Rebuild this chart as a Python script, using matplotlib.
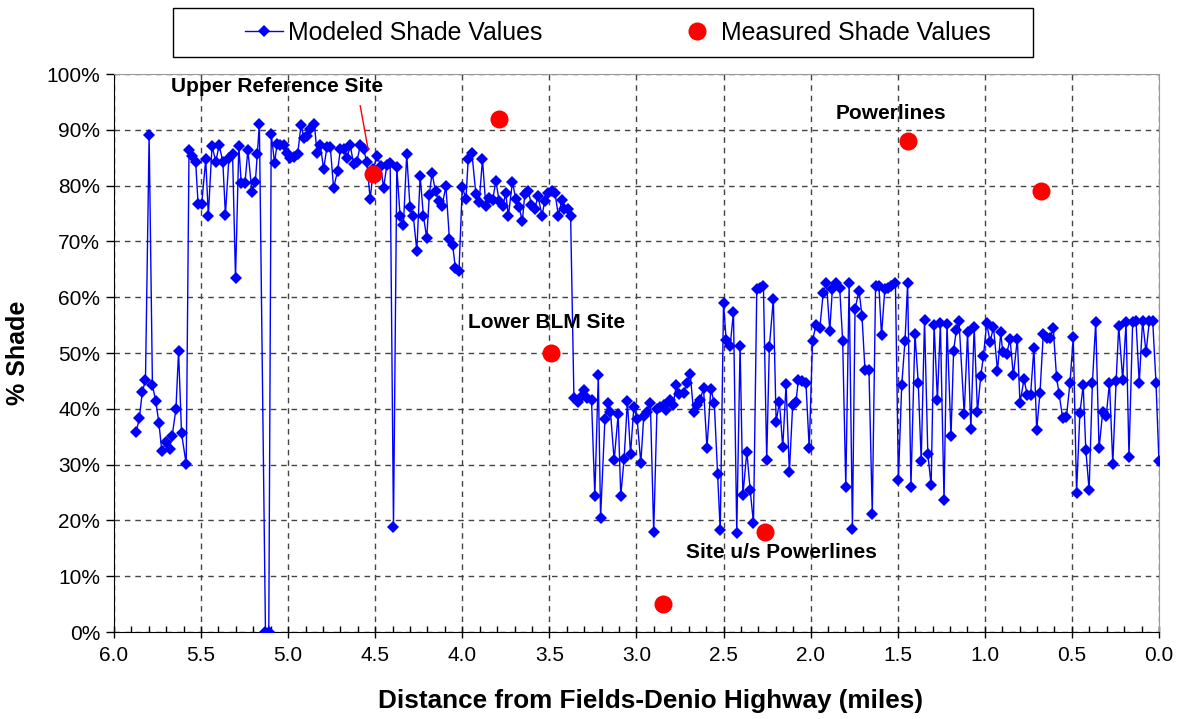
import matplotlib
matplotlib.use("Agg")
import matplotlib.pyplot as plt
import matplotlib.ticker as mticker
from matplotlib.patches import Rectangle
import numpy as np

plt.rcParams['font.family'] = ['Liberation Sans', 'DejaVu Sans']

# modeled shade (distance in miles, % shade)
dist = [5.873, 5.854, 5.837, 5.819, 5.798, 5.779, 5.760, 5.742, 5.725, 5.702,
        5.681, 5.666, 5.644, 5.629, 5.612, 5.585, 5.569, 5.550, 5.531, 5.517,
        5.496, 5.473, 5.458, 5.437, 5.415, 5.396, 5.375, 5.360, 5.340, 5.319,
        5.302, 5.283, 5.269, 5.248, 5.231, 5.208, 5.188, 5.177, 5.165, 5.130,
        5.111, 5.097, 5.078, 5.063, 5.048, 5.025, 5.006, 4.987, 4.968, 4.945,
        4.926, 4.910, 4.891, 4.872, 4.849, 4.834, 4.815, 4.796, 4.777, 4.758,
        4.739, 4.716, 4.700, 4.681, 4.662, 4.643, 4.624, 4.605, 4.586, 4.567,
        4.548, 4.529, 4.510, 4.490, 4.468, 4.452, 4.433, 4.414, 4.395, 4.376,
        4.357, 4.338, 4.319, 4.300, 4.281, 4.261, 4.242, 4.223, 4.204, 4.189,
        4.174, 4.153, 4.136, 4.116, 4.094, 4.074, 4.055, 4.040, 4.019, 4.000,
        3.979, 3.966, 3.945, 3.922, 3.903, 3.884, 3.865, 3.846, 3.826, 3.807,
        3.788, 3.767, 3.751, 3.735, 3.712, 3.693, 3.674, 3.655, 3.641, 3.622,
        3.603, 3.584, 3.565, 3.542, 3.527, 3.506, 3.487, 3.468, 3.448, 3.429,
        3.414, 3.395, 3.378, 3.359, 3.334, 3.315, 3.300, 3.282, 3.258, 3.239,
        3.219, 3.206, 3.181, 3.162, 3.149, 3.128, 3.105, 3.090, 3.071, 3.052,
        3.034, 3.015, 2.996, 2.975, 2.958, 2.939, 2.920, 2.901, 2.882, 2.863,
        2.842, 2.828, 2.809, 2.790, 2.771, 2.756, 2.729, 2.710, 2.691, 2.672,
        2.653, 2.634, 2.615, 2.595, 2.573, 2.553, 2.534, 2.519, 2.500, 2.485,
        2.462, 2.443, 2.424, 2.405, 2.389, 2.366, 2.347, 2.328, 2.309, 2.290,
        2.271, 2.252, 2.237, 2.214, 2.198, 2.179, 2.160, 2.141, 2.122, 2.103,
        2.084, 2.071, 2.052, 2.027, 2.008, 1.989, 1.969, 1.947, 1.928, 1.909,
        1.890, 1.875, 1.856, 1.833, 1.816, 1.798, 1.779, 1.760, 1.745, 1.722,
        1.705, 1.688, 1.665, 1.646, 1.627, 1.608, 1.593, 1.574, 1.555, 1.536,
        1.513, 1.496, 1.477, 1.458, 1.443, 1.424, 1.401, 1.382, 1.365, 1.346,
        1.327, 1.308, 1.291, 1.272, 1.255, 1.234, 1.217, 1.194, 1.179, 1.163,
        1.148, 1.118, 1.099, 1.080, 1.061, 1.042, 1.023, 1.008, 0.989, 0.969,
        0.950, 0.927, 0.908, 0.897, 0.874, 0.855, 0.836, 0.813, 0.798, 0.775,
        0.756, 0.737, 0.718, 0.702, 0.683, 0.664, 0.645, 0.626, 0.607, 0.588,
        0.573, 0.553, 0.531, 0.511, 0.492, 0.473, 0.454, 0.435, 0.420, 0.401,
        0.382, 0.363, 0.344, 0.323, 0.303, 0.284, 0.265, 0.246, 0.231, 0.208,
        0.189, 0.172, 0.151, 0.132, 0.113, 0.094, 0.074, 0.055, 0.036, 0.017,
        0.000]
shade = [35.8, 38.3, 43.1, 45.1, 89.0, 44.2, 41.4, 37.5, 32.4, 34.0,
         32.8, 35.1, 40.0, 50.3, 35.6, 30.1, 86.4, 85.4, 84.3, 76.8,
         76.8, 84.7, 74.6, 87.1, 84.3, 87.3, 84.3, 74.8, 84.9, 85.7,
         63.4, 87.1, 80.4, 80.4, 86.4, 78.9, 80.7, 85.7, 91.0, 0.0,
         0.0, 89.3, 84.1, 87.5, 87.2, 87.3, 85.9, 84.9, 85.2, 85.7,
         90.8, 88.6, 88.9, 90.1, 91.0, 85.9, 87.2, 83.0, 86.9, 87.0,
         79.6, 82.6, 86.5, 86.5, 84.9, 87.2, 83.9, 84.3, 87.2, 86.5,
         84.3, 77.6, 83.0, 85.4, 83.5, 79.6, 83.7, 84.1, 18.9, 83.3,
         74.5, 72.9, 85.6, 76.1, 74.5, 68.3, 81.7, 74.5, 70.6, 78.4,
         82.2, 79.0, 77.2, 76.4, 79.9, 70.5, 69.3, 65.3, 64.7, 79.8,
         77.6, 84.7, 85.9, 78.5, 77.1, 84.7, 76.4, 77.7, 77.4, 80.8,
         77.2, 76.3, 78.7, 74.6, 80.7, 77.6, 76.1, 73.7, 78.5, 79.1,
         76.6, 75.9, 78.1, 74.6, 77.2, 78.7, 79.1, 78.7, 74.6, 77.4,
         75.8, 75.8, 74.5, 42.0, 41.3, 42.3, 43.3, 42.0, 41.6, 24.4,
         46.0, 20.5, 38.2, 41.0, 39.4, 30.8, 39.0, 24.4, 31.0, 41.4,
         31.9, 40.3, 38.1, 30.3, 38.7, 39.4, 41.0, 17.9, 40.0, 40.3,
         40.7, 39.7, 41.6, 40.7, 44.2, 42.6, 42.9, 44.7, 46.2, 39.4,
         40.7, 41.6, 43.7, 33.0, 43.6, 41.0, 28.3, 18.2, 58.9, 52.4,
         51.3, 57.3, 17.8, 51.3, 24.5, 32.3, 25.4, 19.5, 61.5, 61.6,
         62.1, 30.8, 51.1, 59.7, 37.7, 41.2, 33.1, 44.4, 28.6, 40.7,
         41.2, 45.1, 44.9, 44.7, 32.9, 52.2, 55.1, 54.5, 60.7, 62.5,
         54.0, 61.5, 62.5, 61.6, 52.2, 26.0, 62.5, 18.4, 57.9, 61.2,
         56.6, 47.0, 47.0, 21.1, 62.1, 62.0, 53.2, 61.4, 61.6, 62.1,
         62.5, 27.3, 44.2, 52.2, 62.5, 26.0, 53.5, 44.7, 30.6, 56.0,
         31.9, 26.3, 55.1, 41.6, 55.3, 23.6, 55.2, 35.1, 50.4, 54.2,
         55.8, 39.0, 53.7, 36.4, 54.7, 39.5, 45.9, 49.4, 55.3, 52.0,
         54.7, 46.8, 53.7, 50.1, 49.9, 52.5, 46.0, 52.5, 41.0, 45.3,
         42.5, 42.5, 50.9, 36.2, 42.9, 53.5, 52.7, 52.7, 54.5, 45.7,
         42.6, 38.4, 38.6, 44.6, 52.8, 25.0, 39.2, 44.2, 32.7, 25.4,
         44.7, 55.6, 32.9, 39.4, 38.7, 44.7, 30.1, 44.9, 54.8, 45.2,
         55.5, 31.4, 55.6, 55.8, 44.6, 55.8, 50.1, 55.8, 55.8, 44.7,
         30.6]

# measured shade
meas_dist = [4.51, 3.79, 3.49, 2.85, 2.26, 1.44, 0.68]
meas_shade = [82.0, 92.0, 50.0, 5.0, 18.0, 88.0, 79.0]

site_labels = ["Upper Reference Site", "Lower BLM Site", "Site u/s Powerlines", "Powerlines"]
label_pos = [(5.066, 97.7), (3.517, 55.4), (2.17, 14.2), (1.54, 93.0)]

fig = plt.figure(figsize=(11.82, 7.19), dpi=100)
ax = fig.add_axes([0.0964, 0.121, 0.8841, 0.776])

ax.plot(dist, shade, color='#0000FF', lw=1, marker='D', markersize=6.3,
        markeredgewidth=0, label='Modeled Shade Values', zorder=3)
ax.plot(meas_dist, meas_shade, 'o', color='#FF0000', markersize=13,
        markeredgewidth=0, label='Measured Shade Values', zorder=4)

for txt, (xx, yy) in zip(site_labels, label_pos):
    ax.text(xx, yy, txt, fontsize=15, fontweight='bold', ha='center', va='center')
ax.plot([4.586, 4.540], [94.3, 86.4], color='red', lw=1, zorder=5)

ax.set_xlim(6.0, 0.0)
ax.set_ylim(0, 100)
ax.xaxis.set_major_locator(mticker.MultipleLocator(0.5))
ax.xaxis.set_minor_locator(mticker.MultipleLocator(0.1))
ax.xaxis.set_major_formatter(mticker.FormatStrFormatter('%.1f'))
ax.yaxis.set_major_locator(mticker.MultipleLocator(10))
ax.yaxis.set_major_formatter(mticker.FuncFormatter(lambda v, p: '%d%%' % v))

ax.tick_params(axis='x', which='major', direction='inout', length=8, width=1,
               labelsize=15, pad=6)
ax.tick_params(axis='x', which='minor', direction='in', length=4, width=1)
ax.tick_params(axis='y', direction='out', length=6, width=1, labelsize=15, pad=4)

ax.grid(True, which='major', color='#444444', linestyle=(0, (4, 3.5)), lw=1)
ax.set_axisbelow(True)
for s in ['top', 'right']:
    ax.spines[s].set_color('#999999')
for s in ['left', 'bottom']:
    ax.spines[s].set_color('black')

ax.set_xlabel('Distance from Fields-Denio Highway (miles)', fontsize=18.8,
              fontweight='bold', labelpad=17)
ax.xaxis.label.set_x(0.513)
ax.set_ylabel('% Shade', fontsize=18, fontweight='bold', labelpad=12)

# legend box above the plot
fig.patches.append(Rectangle((173 / 1182, 1 - 57 / 719), 860 / 1182, 49 / 719,
                             transform=fig.transFigure, fill=False,
                             edgecolor='black', lw=1))
fig.legend(loc='center left', bbox_to_anchor=(233 / 1182, 1 - 33 / 719),
           ncol=2, frameon=False, fontsize=17.9, borderpad=0,
           handlelength=1.5, handletextpad=0.2, columnspacing=5.5)

fig.savefig('out.png', dpi=100)
